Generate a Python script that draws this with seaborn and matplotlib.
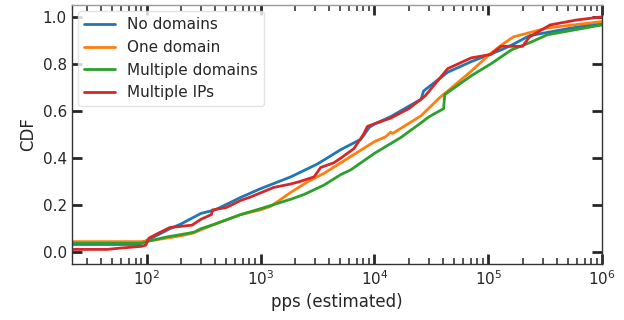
import matplotlib
matplotlib.use("Agg")
import matplotlib.pyplot as plt
from matplotlib.ticker import NullFormatter, FixedLocator
import seaborn as sns
import pandas as pd

# Estimated packets-per-second CDF points for each scanner category
no_domains_x = [22, 85, 100, 133, 160, 200, 300, 400, 670, 1000, 1840, 3160, 5070,
                7600, 9000, 10000, 13900, 20000, 25700, 27000, 44000, 71000,
                130000, 160000, 230000, 500000, 1000000]
no_domains_y = [0.033, 0.033, 0.05, 0.08, 0.10, 0.12, 0.165, 0.18, 0.233, 0.27, 0.32,
                0.375, 0.436, 0.48, 0.53, 0.545, 0.576, 0.62, 0.65, 0.685, 0.765,
                0.81, 0.86, 0.88, 0.92, 0.95, 0.975]

one_domain_x = [22, 90, 100, 150, 200, 250, 300, 400, 670, 1000, 1230, 1840, 2600,
                3600, 5070, 10000, 12500, 13900, 14500, 25700, 38000, 48000, 71000,
                105000, 130000, 166000, 330000, 1000000]
one_domain_y = [0.045, 0.045, 0.047, 0.06, 0.07, 0.08, 0.095, 0.12, 0.16, 0.18, 0.195,
                0.254, 0.30, 0.335, 0.38, 0.47, 0.49, 0.51, 0.505, 0.58, 0.66, 0.70,
                0.77, 0.845, 0.88, 0.915, 0.953, 0.98]

multi_domains_x = [22, 90, 100, 150, 200, 260, 300, 400, 670, 1000, 1840, 2400, 3600,
                   5070, 6200, 10000, 17000, 25700, 30000, 40500, 41500, 71000,
                   105000, 160000, 230000, 330000, 1000000]
multi_domains_y = [0.038, 0.038, 0.045, 0.065, 0.075, 0.085, 0.10, 0.12, 0.16, 0.185,
                   0.225, 0.245, 0.285, 0.33, 0.35, 0.42, 0.487, 0.55, 0.575, 0.61,
                   0.67, 0.75, 0.80, 0.86, 0.89, 0.924, 0.966]

multi_ips_x = [22, 45, 60, 90, 98, 105, 120, 160, 250, 300, 370, 380, 500, 670, 820,
               1300, 1840, 2200, 2950, 3370, 4400, 5070, 6600, 8000, 8700, 13900,
               20000, 25700, 28000, 44000, 71000, 105000, 130000, 200000, 230000,
               350000, 600000, 1000000]
multi_ips_y = [0.012, 0.012, 0.018, 0.025, 0.03, 0.06, 0.075, 0.105, 0.115, 0.14,
               0.16, 0.18, 0.19, 0.22, 0.235, 0.275, 0.29, 0.30, 0.32, 0.36, 0.38,
               0.40, 0.44, 0.50, 0.535, 0.57, 0.61, 0.65, 0.665, 0.78, 0.826, 0.84,
               0.875, 0.875, 0.915, 0.966, 0.987, 1.0]

series = {
    "No domains": (no_domains_x, no_domains_y),
    "One domain": (one_domain_x, one_domain_y),
    "Multiple domains": (multi_domains_x, multi_domains_y),
    "Multiple IPs": (multi_ips_x, multi_ips_y),
}

rows = []
for name, (xs, ys) in series.items():
    for xv, yv in zip(xs, ys):
        rows.append({"pps": float(xv), "CDF": float(yv), "group": name})
df = pd.DataFrame(rows)

sns.set_theme(style="ticks")
plt.rcParams["font.family"] = ["DejaVu Sans"]

fig = plt.figure(figsize=(6.24, 3.2), dpi=100)
ax = fig.add_axes([0.115, 0.175, 0.85, 0.809])
ax.set_xscale("log")

palette = ["#1f77b4", "#ff7f0e", "#2ca02c", "#d62728"]
sns.lineplot(data=df, x="pps", y="CDF", hue="group", palette=palette,
             sort=False, estimator=None, units="group", linewidth=2, ax=ax)

ax.set_xlim(22, 1e6)
ax.set_ylim(-0.05, 1.05)
ax.set_yticks([0.0, 0.2, 0.4, 0.6, 0.8, 1.0])
ax.xaxis.set_major_locator(FixedLocator([1e2, 1e3, 1e4, 1e5, 1e6]))
minor = [m * 10 ** e for e in range(1, 6) for m in range(2, 10) if 22 <= m * 10 ** e < 1e6]
ax.xaxis.set_minor_locator(FixedLocator(minor))
ax.xaxis.set_minor_formatter(NullFormatter())
ax.set_xlabel("pps (estimated)", fontsize=12)
ax.set_ylabel("CDF", fontsize=12)

ax.tick_params(axis="both", which="both", direction="in", top=True, right=True,
               labelsize=11, colors="#262626")
ax.tick_params(axis="both", which="major", length=7, width=2.0)
ax.tick_params(axis="x", which="minor", length=4.5, width=1.1)
for s in ax.spines.values():
    s.set_color("#333333")
    s.set_linewidth(1.0)
ax.spines["top"].set_color("#999999")

leg = ax.legend(loc="upper left", fontsize=11, frameon=True, fancybox=True,
                handlelength=2.0, borderaxespad=0.4)
leg.get_frame().set_edgecolor("#dddddd")

fig.savefig("out.png", dpi=100)
